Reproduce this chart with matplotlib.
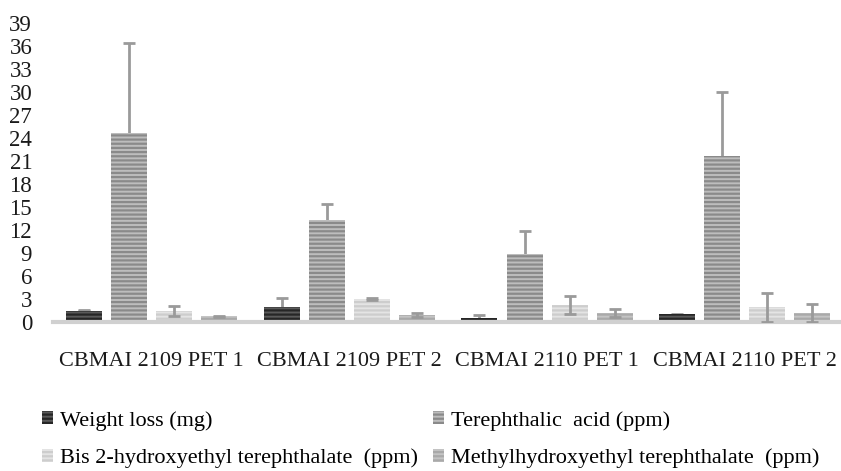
import numpy as np
import matplotlib
matplotlib.use('Agg')
import matplotlib.pyplot as plt

groups = ['CBMAI 2109 PET 1', 'CBMAI 2109 PET 2', 'CBMAI 2110 PET 1', 'CBMAI 2110 PET 2']
series = ['Weight loss (mg)', 'Terephthalic  acid (ppm)',
          'Bis 2-hydroxyethyl terephthalate  (ppm)', 'Methylhydroxyethyl terephthalate  (ppm)']

weight_loss = [1.4, 1.9, 0.42, 0.94]
weight_loss_err = [0.05, 1.2, 0.43, 0.05]
tpa = [24.6, 13.2, 8.8, 21.6]
tpa_err = [11.8, 2.1, 3.05, 8.4]
bhet = [1.4, 2.93, 2.15, 1.85]
bhet_err = [0.65, 0.15, 1.2, 1.9]
mhet = [0.68, 0.89, 1.15, 1.15]
mhet_err = [0.08, 0.25, 0.5, 1.17]

yticks = list(range(0, 40, 3))

plt.rcParams['font.family'] = ['Liberation Serif', 'DejaVu Serif']
plt.rcParams['hatch.linewidth'] = 1.6

fig = plt.figure(figsize=(8.41, 4.71), dpi=100)
ax = fig.add_axes([0.063, 0.3174, 0.94, 0.6345])

values = [weight_loss, tpa, bhet, mhet]
errors = [weight_loss_err, tpa_err, bhet_err, mhet_err]
faces = ['#5a5a5a', '#bdbdbd', '#e4e4e4', '#c4c4c4']
stripes = ['#262626', '#8a8a8a', '#cdcdcd', '#a9a9a9']
err_z = [1, 1, 3, 3]

x = np.arange(len(groups))
width = 0.182
pitch = 0.228
bars = []
for i in range(4):
	pos = x + (i - 1.5) * pitch
	b = ax.bar(pos, values[i], width, color=faces[i], edgecolor=stripes[i],
			   hatch='----', linewidth=0, label=series[i], zorder=2)
	ax.errorbar(pos, values[i], yerr=errors[i], fmt='none', ecolor='#9a9a9a',
				elinewidth=2, capsize=4, capthick=2, zorder=err_z[i])
	bars.append(b)

ax.set_xlim(-0.5, 3.5)
ax.set_ylim(0, 39)
ax.set_yticks(yticks)
ax.set_xticks(x)
ax.set_xticklabels(groups)
ax.tick_params(axis='both', length=0, colors='#1a1a1a')
ax.tick_params(axis='y', labelsize=16.5, pad=15)
ax.tick_params(axis='x', labelsize=16, pad=22)
for s in ['top', 'right', 'left']:
	ax.spines[s].set_visible(False)
ax.spines['bottom'].set_color('#d0d0d0')
ax.spines['bottom'].set_linewidth(3)

order = [0, 2, 1, 3]
fig.legend([bars[k] for k in order], [series[k] for k in order], ncol=2,
		   loc='upper left', bbox_to_anchor=(0.026, 0.17), frameon=False,
		   fontsize=16, handlelength=0.5, handleheight=0.5, handletextpad=0.3,
		   columnspacing=0.7, labelspacing=0.8)

fig.savefig('out.png', dpi=100)
